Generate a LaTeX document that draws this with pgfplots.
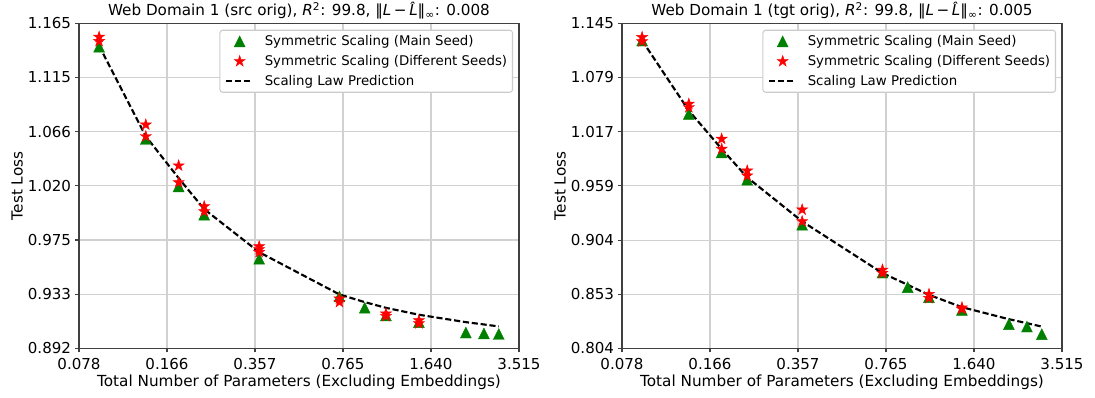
\documentclass[border=0pt]{standalone}
\usepackage{fontspec}
\setmainfont{DejaVu Sans}
\usepackage{pgfplots}
\pgfplotsset{compat=1.18}

\definecolor{mplgreen}{RGB}{0,128,0}
\definecolor{mplred}{RGB}{255,0,0}

\newcommand\tickfont{\fontsize{11.3}{13}\selectfont}

% isosceles triangle whose bounding box is centred on the data point
\pgfdeclareplotmark{ctri}{%
  \pgfpathmoveto{\pgfqpoint{0pt}{\pgfplotmarksize}}%
  \pgfpathlineto{\pgfqpoint{-\pgfplotmarksize}{-\pgfplotmarksize}}%
  \pgfpathlineto{\pgfqpoint{\pgfplotmarksize}{-\pgfplotmarksize}}%
  \pgfpathclose
  \pgfusepathqfillstroke}
% filled five-pointed star
\pgfdeclareplotmark{fstar}{%
  \pgfpathmoveto{\pgfpointpolar{90}{\pgfplotmarksize}}%
  \pgfpathlineto{\pgfpointpolar{126}{0.382\pgfplotmarksize}}%
  \pgfpathlineto{\pgfpointpolar{162}{\pgfplotmarksize}}%
  \pgfpathlineto{\pgfpointpolar{198}{0.382\pgfplotmarksize}}%
  \pgfpathlineto{\pgfpointpolar{234}{\pgfplotmarksize}}%
  \pgfpathlineto{\pgfpointpolar{270}{0.382\pgfplotmarksize}}%
  \pgfpathlineto{\pgfpointpolar{306}{\pgfplotmarksize}}%
  \pgfpathlineto{\pgfpointpolar{342}{0.382\pgfplotmarksize}}%
  \pgfpathlineto{\pgfpointpolar{18}{\pgfplotmarksize}}%
  \pgfpathlineto{\pgfpointpolar{54}{0.382\pgfplotmarksize}}%
  \pgfpathclose
  \pgfusepathqfillstroke}

% small "1e9" multiplier text under the right end of the x axis
\tikzset{offsettext/.style={anchor=base west, inner sep=0pt, font=\fontsize{6.2}{7}\selectfont}}

% legend samples: 20pt wide, marks in the middle
\pgfplotsset{legend image code/.code={%
  \path (0pt,-3pt) (20pt,3pt);
  \draw[mark repeat=2,mark phase=2,#1] plot coordinates {(0pt,0pt) (10pt,0pt) (20pt,0pt)};}}

\pgfplotsset{
  every axis title shift=0pt,
  every tick label/.append style={font=\tickfont},
  twinpanel/.style={
    scale only axis, width=330pt, height=243.8pt,
    xmin=0.0776, xmax=3.515,
    xtick={0.0776,0.16637,0.35671,0.76479,1.6397,3.515},
    xticklabels={{\tickfont 0.078},{\tickfont 0.166},{\tickfont 0.357},
                 {\tickfont 0.765},{\tickfont 1.640},{\tickfont 3.515}},
    minor xtick={}, minor ytick={},
    grid=major,
    major grid style={line width=0.8pt, draw=black!18},
    axis line style={line width=0.9pt, draw=black!75},
    tick style={line width=0.8pt, draw=black!75},
    tick align=outside, tick pos=left, major tick length=3pt,
    xticklabel style={font=\tickfont, inner sep=0pt, anchor=base, yshift=-12.9pt},
    yticklabel style={font=\tickfont, inner sep=0pt, anchor=east, xshift=-2.8pt},
    label style={font=\fontsize{11.45}{13}\selectfont},
    xlabel={Total Number of Parameters (Excluding Embeddings)},
    ylabel={Test Loss},
    xlabel style={at={(axis description cs:0.5,-0.1157)}, anchor=base},
    ylabel style={at={(axis description cs:-0.128,0.5)}, anchor=base},
    title style={at={(axis description cs:0.5,1.0226)}, anchor=base,
      font=\fontsize{11.4}{13}\selectfont},
    legend style={
      at={(axis description cs:0.9864,0.9803)}, anchor=north east,
      draw=black!20, line width=0.8pt, rounded corners=2pt, fill=white,
      font=\fontsize{10}{12}\selectfont,
      nodes={inner sep=0pt},
      inner xsep=4pt, inner ysep=3.8pt,
      row sep=5.8pt, column sep=8pt},
    legend cell align=left,
  },
  mainseed/.style={only marks, mark=ctri, mark size=4.1pt,
    mark options={fill=mplgreen, draw=mplgreen, line width=0.3pt}},
  seeds/.style={only marks, mark=fstar, mark size=4.4pt,
    mark options={fill=mplred, draw=mplred, line width=0.3pt}},
  lawfit/.style={no marks, black, line width=1.6pt,
    dash pattern=on 4.6pt off 2.1pt},
}

\begin{document}
\begin{tikzpicture}
\useasboundingbox (0,0) rectangle (821.25pt,297.75pt);

% ---------------- source domain ----------------
\begin{loglogaxis}[twinpanel, at={(59.25pt,36.45pt)}, anchor=south west,
  ymin=0.8924, ymax=1.1652,
  ytick={0.8924,0.93297,0.97538,1.01972,1.06607,1.11453,1.1652},
  yticklabels={{\tickfont 0.892},{\tickfont 0.933},{\tickfont 0.975},{\tickfont 1.020},
               {\tickfont 1.066},{\tickfont 1.115},{\tickfont 1.165}},
  title={Web Domain 1 (src orig), \textit{R}\textsuperscript{2}: 99.8, ‖\textit{L}\,−\,\textit{L̂}‖\textsubscript{∞}: 0.008}]
\addplot[mainseed] coordinates {
  (0.09235,1.1430) (0.13846,1.0597) (0.18405,1.0193) (0.22966,0.99585)
  (0.3698,0.96051) (0.74155,0.93128) (0.92307,0.92268) (1.1097,0.91686)
  (1.4767,0.91183) (2.2180,0.90410) (2.5940,0.90340) (2.9500,0.90300)};
\addlegendentry{Symmetric Scaling (Main Seed)}
\addplot[seeds] coordinates {
  (0.09235,1.1522) (0.09235,1.1482)
  (0.13846,1.0722) (0.13846,1.0620)
  (0.18405,1.0368) (0.18405,1.0226)
  (0.22966,1.0027) (0.22966,0.99856)
  (0.3698,0.97025) (0.3698,0.9680) (0.3698,0.96572)
  (0.74155,0.92952) (0.74155,0.92693)
  (1.1097,0.91815) (1.1097,0.91634)
  (1.4767,0.91311) (1.4767,0.91087)};
\addlegendentry{Symmetric Scaling (Different Seeds)}
\addplot[lawfit] coordinates {
  (0.09235,1.1440) (0.13846,1.0620) (0.18405,1.0262) (0.22966,1.0004)
  (0.3698,0.96572) (0.74155,0.93281) (0.92307,0.92693) (1.1097,0.92263)
  (1.4767,0.91739) (2.2180,0.91183) (2.5940,0.91012) (2.9500,0.90864)};
\addlegendentry{Scaling Law Prediction}
\node[offsettext] at (axis description cs:0.977,-0.100) {1e9};
\end{loglogaxis}

% ---------------- target domain ----------------
\begin{loglogaxis}[twinpanel, at={(466.5pt,36.45pt)}, anchor=south west,
  ymin=0.8038, ymax=1.1446,
  ytick={0.8038,0.85258,0.90432,0.95920,1.01741,1.07916,1.1446},
  yticklabels={{\tickfont 0.804},{\tickfont 0.853},{\tickfont 0.904},{\tickfont 0.959},
               {\tickfont 1.017},{\tickfont 1.079},{\tickfont 1.145}},
  title={Web Domain 1 (tgt orig), \textit{R}\textsuperscript{2}: 99.8, ‖\textit{L}\,−\,\textit{L̂}‖\textsubscript{∞}: 0.005}]
\addplot[mainseed] coordinates {
  (0.09235,1.1234) (0.13846,1.0372) (0.18405,0.99478) (0.22966,0.96565)
  (0.3698,0.91947) (0.74155,0.87296) (0.92307,0.85920) (1.1097,0.84989)
  (1.4767,0.83823) (2.2180,0.82528) (2.5940,0.82312) (2.9500,0.81635)};
\addlegendentry{Symmetric Scaling (Main Seed)}
\addplot[seeds] coordinates {
  (0.09235,1.1274) (0.09235,1.1222)
  (0.13846,1.0486) (0.13846,1.0447)
  (0.18405,1.0094) (0.18405,0.99847)
  (0.22966,0.97515) (0.22966,0.96987)
  (0.3698,0.93470) (0.3698,0.92286)
  (0.74155,0.87553) (0.74155,0.87240)
  (1.1097,0.85268) (1.1097,0.84897)
  (1.4767,0.84032) (1.4767,0.83900)};
\addlegendentry{Symmetric Scaling (Different Seeds)}
\addplot[lawfit] coordinates {
  (0.09235,1.1234) (0.13846,1.0410) (0.18405,0.99847) (0.22966,0.96807)
  (0.3698,0.92286) (0.74155,0.87240) (0.92307,0.86136) (1.1097,0.85202)
  (1.4767,0.84068) (2.2180,0.82977) (2.5940,0.82616) (2.9500,0.82312)};
\addlegendentry{Scaling Law Prediction}
\node[offsettext] at (axis description cs:0.977,-0.100) {1e9};
\end{loglogaxis}
\end{tikzpicture}
\end{document}
